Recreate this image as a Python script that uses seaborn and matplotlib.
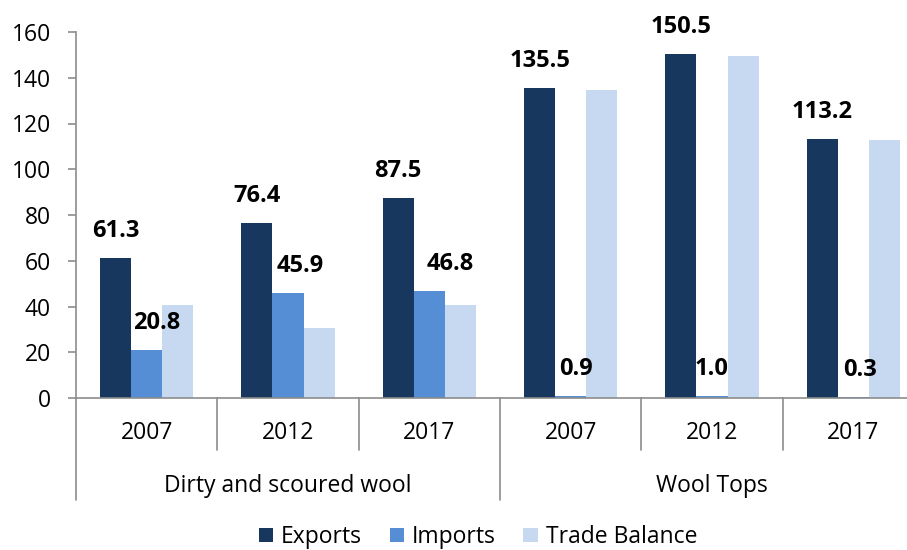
import matplotlib
matplotlib.use("Agg")
import matplotlib.pyplot as plt
from matplotlib.patches import Patch
import seaborn as sns
import pandas as pd

# ---- data ----
categories = ["Dirty and scoured wool", "Wool Tops"]
years = ["2007", "2012", "2017"]
series = ["Exports", "Imports", "Trade Balance"]
exports = [61.3, 76.4, 87.5, 135.5, 150.5, 113.2]
imports = [20.8, 45.9, 46.8, 0.9, 1.0, 0.3]
trade_balance = [40.5, 30.5, 40.7, 134.6, 149.5, 112.9]
y_ticks = [0, 20, 40, 60, 80, 100, 120, 140, 160]

# label horizontal nudges (pixels) for import labels
imp_label_dx = [10, 12, 21, 5, 0, 7]

colors = ["#17375E", "#558ED5", "#C6D9F1"]

groups = [f"{c}|{y}" for c in categories for y in years]
rows = []
for s, vals in zip(series, [exports, imports, trade_balance]):
    for g, v in zip(groups, vals):
        rows.append({"group": g, "series": s, "value": v})
df = pd.DataFrame(rows)

sns.set_theme(style="white")
plt.rcParams["font.family"] = ["Open Sans", "DejaVu Sans"]
plt.rcParams["text.color"] = "black"

fig = plt.figure(figsize=(9.07, 5.5), dpi=100)
L, R, B, T = 76, 924, 398, 32
W, H = 907, 550
ax = fig.add_axes([L / W, 1 - B / H, (R - L) / W, (B - T) / H])

sns.barplot(data=df, x="group", y="value", hue="series", order=groups,
            hue_order=series, palette=colors, width=0.66, gap=0,
            linewidth=0, saturation=1, ax=ax, legend=False)

FS = 16.5
ax.set_xlim(-0.5, len(groups) - 0.5)
ax.set_ylim(0, 160)
ax.set_yticks(y_ticks)
ax.set_yticklabels([str(t) for t in y_ticks], fontsize=FS, color="black")
ax.set_xticks([])
ax.set_xlabel("")
ax.set_ylabel("")

gray = "#8C8C8C"
for s in ["top", "right"]:
    ax.spines[s].set_visible(False)
ax.spines["left"].set_color(gray)
ax.spines["left"].set_linewidth(1.2)
ax.spines["bottom"].set_color(gray)
ax.spines["bottom"].set_linewidth(1.2)
ax.tick_params(axis="y", left=True, length=6, width=1.2, color=gray, pad=12)

# hierarchical x axis
trans = ax.get_xaxis_transform()
ph = B - T
short = -(450 - B) / ph
long_ = -(500 - B) / ph
n = len(groups)
for i in range(n + 1):
    x = i - 0.5
    yb = long_ if i % len(years) == 0 else short
    ax.plot([x, x], [0, yb], color=gray, lw=1.2, transform=trans, clip_on=False)
for i, g in enumerate(groups):
    ax.text(i, -(433 - B) / ph, g.split("|")[1], transform=trans,
            ha="center", va="center", fontsize=FS, color="black")
for j, c in enumerate(categories):
    xc = j * len(years) + (len(years) - 1) / 2
    ax.text(xc, -(486 - B) / ph, c, transform=trans,
            ha="center", va="center", fontsize=FS, color="black")

# data labels
bw = 0.66 / 3
for i in range(n):
    ax.annotate(f"{exports[i]:.1f}", (i - bw, exports[i]), xytext=(0, 27 * 0.72),
                textcoords="offset points", ha="center", va="center",
                fontsize=17, fontweight="bold", color="black")
    ax.annotate(f"{imports[i]:.1f}", (i, imports[i]),
                xytext=(imp_label_dx[i] * 0.72, 27 * 0.72),
                textcoords="offset points", ha="center", va="center",
                fontsize=17, fontweight="bold", color="black")

handles = [Patch(facecolor=c, edgecolor="none", label=s) for c, s in zip(colors, series)]
fig.legend(handles=handles, loc="center", bbox_to_anchor=(478 / W, 1 - 537 / H),
           ncol=3, frameon=False, fontsize=FS, handlelength=0.62,
           handleheight=0.62, handletextpad=0.35, columnspacing=1.2,
           borderaxespad=0, borderpad=0, labelcolor="black")

fig.savefig("out.png", dpi=100)
